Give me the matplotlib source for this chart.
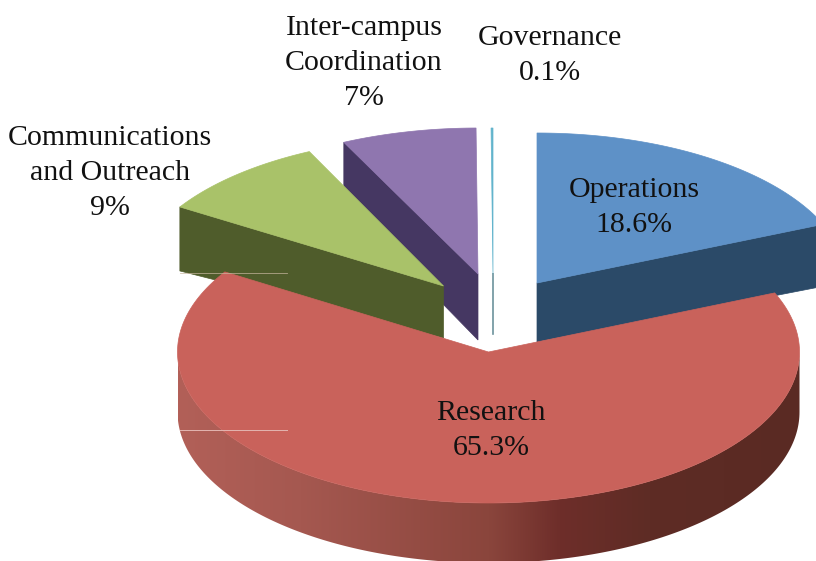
#!/usr/bin/env python3
import numpy as np
import matplotlib
matplotlib.use("Agg")
import matplotlib.pyplot as plt
from matplotlib.colors import LinearSegmentedColormap
from matplotlib.patches import Polygon

labels = ["Operations", "Research", "Communications\nand Outreach", "Inter-campus\nCoordination", "Governance"]
values = [18.6, 65.3, 9, 7, 0.1]

top_colors = ["#5E91C7", "#C9625B", "#A9C269", "#8F76AF", "#62B4CC"]
side_colors = ["#2B4A68", "#8A453C", "#4F5C2B", "#453762", "#2F6472"]

# pixel layout of each exploded slice: apex x, apex y, y radius, depth at apex, depth at rim
RX = 311
layout = [
    (537, 283, 150, 59, 62),
    (488.5, 352, 151, 60, 60),
    (443.5, 286, 149, 52, 64),
    (478, 274, 146, 66, 60),
    (493, 274, 146, 60, 60),
]
label_pos = [(634, 207), (491, 430), (110, 173), (364, 63), (550, 55)]

# shading of the research rim, left to right
rim_x = [178, 300, 490, 560, 650, 800]
rim_colors = ["#B26058", "#A55850", "#8A453C", "#6E2E2A", "#5E2C25", "#5A2A23"]


def rim_point(cx, cy, ry, a):
    return cx + RX * np.sin(a), cy - ry * np.cos(a)


def top_face(cx, cy, ry, a0, a1):
    aa = np.linspace(a0, a1, 200)
    pts = [(cx, cy)] + [rim_point(cx, cy, ry, a) for a in aa]
    return pts


def radial_face(cx, cy, ry, a, d0, d1):
    x, y = rim_point(cx, cy, ry, a)
    return [(cx, cy), (x, y), (x, y + d1), (cx, cy + d0)]


fig = plt.figure(figsize=(8.16, 5.61), dpi=100)
ax = fig.add_axes([0, 0, 1, 1])

edges = np.radians(np.concatenate([[0], np.cumsum(values)]) * 3.6)


def draw_slice(i):
    cx, cy, ry, d0, d1 = layout[i]
    a0, a1 = edges[i], edges[i + 1]
    # radial cut faces that look towards the viewer
    if i == 0:
        ax.add_patch(Polygon(radial_face(cx, cy, ry, a1, d0, d1), fc=side_colors[i], ec=side_colors[i], lw=0.5))
    if i == 2 or i == 3:
        ax.add_patch(Polygon(radial_face(cx, cy, ry, a0, d0, d1), fc=side_colors[i], ec=side_colors[i], lw=0.5))
    if i == 4:
        ax.plot([cx, cx], [cy, cy + d0], color=side_colors[i], lw=1.2, alpha=0.7)
    if i == 1:
        # outer rim: a horizontal gradient clipped to the rim outline
        aa = np.linspace(np.pi / 2, 3 * np.pi / 2, 200)
        front = [rim_point(cx, cy, ry, a) for a in aa]
        outline = front + [(x, y + d1) for x, y in front[::-1]]
        stops = [(x - rim_x[0]) / (rim_x[-1] - rim_x[0]) for x in rim_x]
        cmap = LinearSegmentedColormap.from_list("rim", list(zip(stops, rim_colors)))
        img = ax.imshow(np.linspace(0, 1, 256)[None, :], cmap=cmap, aspect="auto",
                        extent=(rim_x[0], rim_x[-1], 561, 340), zorder=1)
        img.set_clip_path(Polygon(outline, transform=ax.transData))
    ax.add_patch(Polygon(top_face(cx, cy, ry, a0, a1), fc=top_colors[i], ec=top_colors[i], lw=0.5))


# back to front: research goes over the cut faces of its neighbours
for i in [3, 4, 2, 0, 1]:
    draw_slice(i)

# stray lines left in the scanned picture
ax.plot([180, 287], [273, 273], color="#C9B8A0", lw=0.6, alpha=0.8)
ax.plot([180, 287], [430, 430], color="#E3B5B0", lw=0.7)

for lab, val, (x, y) in zip(labels, values, label_pos):
    ax.text(x, y, f"{lab}\n{val:g}%", ha="center", va="center", family="Liberation Serif",
            fontsize=21.5, color="#111111", linespacing=1.45)

ax.set_xlim(0, 816)
ax.set_ylim(561, 0)
ax.axis("off")

fig.savefig("out.png", dpi=100)
